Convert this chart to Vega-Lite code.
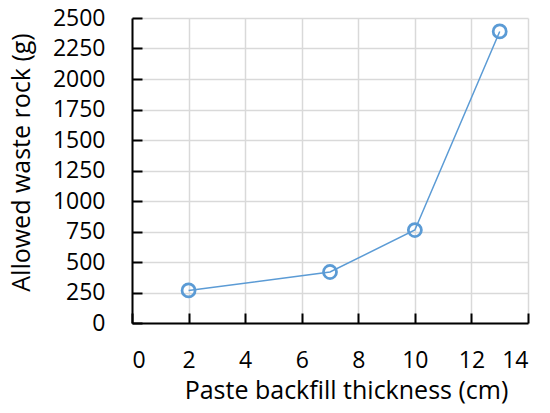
{
  "$schema": "https://vega.github.io/schema/vega-lite/v6.json",
  "width": 396,
  "height": 305,
  "autosize": {"type": "none"},
  "padding": {"left": 132, "top": 18, "right": 22, "bottom": 90},
  "background": "white",
  "config": {
    "view": {"stroke": null},
    "font": "Open Sans",
    "axis": {
      "labelFont": "Open Sans",
      "titleFont": "Open Sans",
      "labelFontSize": 23,
      "titleFontSize": 25,
      "labelColor": "#000000",
      "titleColor": "#000000",
      "titleFontWeight": "normal",
      "domainColor": "#000000",
      "domainWidth": 2,
      "tickColor": "#000000",
      "tickWidth": 2,
      "tickSize": -10,
      "gridColor": "#d9d9d9",
      "gridWidth": 1.5
    }
  },
  "data": {
    "values": [
      {"thickness": 2, "waste": 267},
      {"thickness": 7, "waste": 418},
      {"thickness": 10, "waste": 762},
      {"thickness": 13, "waste": 2390}
    ]
  },
  "encoding": {
    "x": {
      "field": "thickness",
      "type": "quantitative",
      "scale": {"domain": [0, 14], "nice": false},
      "axis": {
        "title": "Paste backfill thickness (cm)",
        "values": [0, 2, 4, 6, 8, 10, 12, 14],
        "format": "d",
        "labelPadding": 36,
        "titlePadding": 6,
        "titleX": 214
      }
    },
    "y": {
      "field": "waste",
      "type": "quantitative",
      "scale": {"domain": [0, 2500], "nice": false},
      "axis": {
        "title": "Allowed waste rock (g)",
        "values": [0, 250, 500, 750, 1000, 1250, 1500, 1750, 2000, 2250, 2500],
        "format": "d",
        "labelPadding": 37,
        "titlePadding": 18,
        "titleY": 144
      }
    }
  },
  "layer": [
    {"mark": {"type": "line", "color": "#5b9bd5", "strokeWidth": 1.5}},
    {"mark": {"type": "point", "shape": "circle", "filled": false, "color": "#5b9bd5", "strokeWidth": 2.75, "size": 170, "opacity": 1}}
  ]
}
